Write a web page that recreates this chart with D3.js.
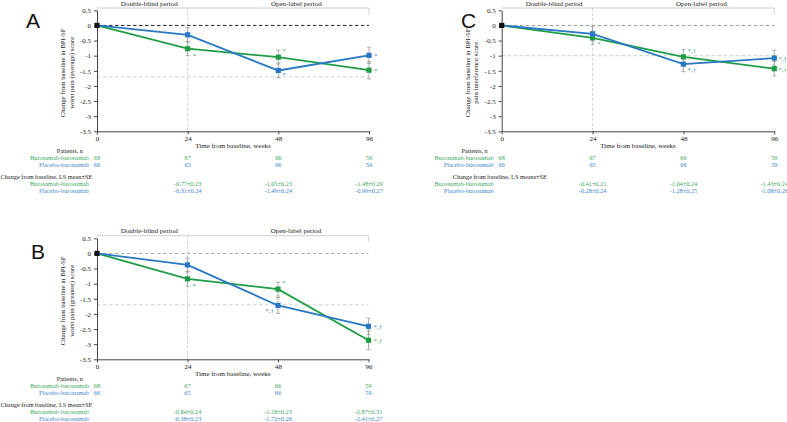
<!DOCTYPE html>
<html><head><meta charset="utf-8">
<script src="https://cdn.jsdelivr.net/npm/d3@7"></script>
<style>body{margin:0;background:#fff}svg{display:block}
svg text{font-family:"Liberation Serif","DejaVu Serif",serif}
svg text.sans{font-family:"Liberation Sans","DejaVu Sans",sans-serif}
</style>
</head><body>
<svg id="c" width="787" height="422"></svg>
<script>
// ---------- data ----------
const weeks = ["0", "24", "48", "96"];
const seriesNames = ["Burosumab-burosumab", "Placebo-burosumab"];
const yTicks = [0.5, 0, -0.5, -1, -1.5, -2, -2.5, -3, -3.5];

const aBuro = [0, -0.77, -1.05, -1.48];
const aBuroSE = [0, 0.23, 0.23, 0.29];
const aPlac = [0, -0.31, -1.49, -0.99];
const aPlacSE = [0, 0.24, 0.24, 0.27];
const aBuroN = [68, 67, 66, 59];
const aPlacN = [66, 65, 66, 59];
const aBuroNote = ["", "*", "*", "*"];
const aPlacNote = ["", "", "*", "*"];

const bBuro = [0, -0.84, -1.18, -2.87];
const bBuroSE = [0, 0.24, 0.23, 0.31];
const bPlac = [0, -0.38, -1.72, -2.41];
const bPlacSE = [0, 0.23, 0.26, 0.27];
const bBuroN = [68, 67, 66, 59];
const bPlacN = [66, 65, 66, 59];
const bBuroNote = ["", "*", "*", "*,†"];
const bPlacNote = ["", "", "*,†", "*,†"];

const cBuro = [0, -0.41, -1.04, -1.43];
const cBuroSE = [0, 0.21, 0.24, 0.24];
const cPlac = [0, -0.28, -1.28, -1.08];
const cPlacSE = [0, 0.24, 0.25, 0.26];
const cBuroN = [68, 67, 66, 59];
const cPlacN = [66, 65, 66, 59];
const cBuroNote = ["", "*", "*,†", "*,†"];
const cPlacNote = ["", "", "*,†", "*,†"];

// ---------- style ----------
const GREEN = "#1f9d45", BLUE = "#2878c6";
const GREEN_T = "#3aa95c", BLUE_T = "#3b86c9";

const svg = d3.select("#c");
svg.append("rect").attr("width", 787).attr("height", 422).attr("fill", "#fff");

function fmt(v, se) {
  return v.toFixed(2) + "\u00b1" + se.toFixed(2);
}

function panel(cfg) {
  const g = svg.append("g");
  const x = d3.scalePoint().domain(weeks).range([cfg.x0, cfg.x1]);
  const y = d3.scaleLinear().domain([-3.5, 0.5]).range([cfg.yb, cfg.yt]);

  // panel letter
  g.append("text").attr("class", "sans").attr("x", cfg.lx).attr("y", cfg.ly)
    .attr("font-size", 21).attr("fill", "#111").text(cfg.letter);

  // header
  g.append("line").attr("x1", x("0")).attr("x2", x("96")).attr("y1", cfg.yh).attr("y2", cfg.yh)
    .attr("stroke", "#cfcfcf").attr("stroke-width", 1);
  g.append("line").attr("x1", x("96")).attr("x2", x("96")).attr("y1", cfg.yh).attr("y2", cfg.yh + 6)
    .attr("stroke", "#cfcfcf").attr("stroke-width", 1);
  g.append("text").attr("x", (x("0") + x("24")) / 2 + 7).attr("y", cfg.yh - 2.5)
    .attr("text-anchor", "middle").attr("font-size", 7).attr("fill", "#222")
    .text("Double-blind period");
  g.append("text").attr("x", (x("24") + x("96")) / 2 + 18).attr("y", cfg.yh - 2.5)
    .attr("text-anchor", "middle").attr("font-size", 7).attr("fill", "#222")
    .text("Open-label period");

  // vertical divider at 24 weeks
  g.append("line").attr("x1", x("24")).attr("x2", x("24")).attr("y1", cfg.yh).attr("y2", cfg.yb)
    .attr("stroke", "#c8c8c8").attr("stroke-dasharray", "3,2").attr("stroke-width", 0.8);

  // reference lines
  g.append("line").attr("x1", x("0")).attr("x2", x("96")).attr("y1", y(0)).attr("y2", y(0))
    .attr("stroke", cfg.zeroColor).attr("stroke-dasharray", "3.5,2.5").attr("stroke-width", 1);
  g.append("line").attr("x1", x("0")).attr("x2", x("96")).attr("y1", y(cfg.thr)).attr("y2", y(cfg.thr))
    .attr("stroke", "#c8c8c8").attr("stroke-dasharray", "3.5,2.5").attr("stroke-width", 0.9);

  // axes
  const ya = g.append("g").attr("transform", `translate(${cfg.x0},0)`)
    .call(d3.axisLeft(y).tickValues(yTicks).tickSize(3).tickSizeOuter(0).tickFormat(d => String(d)));
  const xa = g.append("g").attr("transform", `translate(0,${cfg.yb})`)
    .call(d3.axisBottom(x).tickSize(3).tickSizeOuter(0).tickPadding(2));
  [ya, xa].forEach(a => {
    a.attr("font-family", null);
    a.selectAll("path,line").attr("stroke", "#444");
    a.selectAll("text").attr("font-size", 7).attr("fill", "#222");
  });

  // y label
  const yl = g.append("text").attr("transform", `translate(${cfg.x0 - 28},${(cfg.yt + cfg.yb) / 2 + 2}) rotate(-90)`)
    .attr("text-anchor", "middle").attr("font-size", 6.8).attr("fill", "#222");
  yl.append("tspan").attr("x", 0).attr("dy", -4).text("Change from baseline in BPI-SF");
  yl.append("tspan").attr("x", 0).attr("dy", 8.5).text(cfg.ylabel);

  // series
  const series = [
    {v: cfg.buro, se: cfg.buroSE, c: GREEN, tc: GREEN_T, note: cfg.buroNote, off: cfg.buroOff},
    {v: cfg.plac, se: cfg.placSE, c: BLUE, tc: BLUE_T, note: cfg.placNote, off: cfg.placOff}
  ];
  // error bars
  series.forEach(s => {
    weeks.forEach((w, i) => {
      if (!s.se[i]) return;
      const xx = x(w), y1 = y(s.v[i] + s.se[i]), y2 = y(s.v[i] - s.se[i]);
      g.append("line").attr("x1", xx).attr("x2", xx).attr("y1", y1).attr("y2", y2)
        .attr("stroke", "#9a9a9a").attr("stroke-width", 0.8);
      [y1, y2].forEach(yy => g.append("line").attr("x1", xx - 2).attr("x2", xx + 2)
        .attr("y1", yy).attr("y2", yy).attr("stroke", "#9a9a9a").attr("stroke-width", 0.8));
    });
  });
  const line = d3.line().x((d, i) => x(weeks[i])).y(d => y(d));
  series.forEach(s => {
    g.append("path").datum(s.v).attr("d", line).attr("fill", "none")
      .attr("stroke", s.c).attr("stroke-width", 1.8);
  });
  series.forEach(s => {
    s.v.forEach((v, i) => {
      if (i === 0) return;
      g.append("rect").attr("x", x(weeks[i]) - 2.6).attr("y", y(v) - 2.6)
        .attr("width", 5.2).attr("height", 5.2).attr("fill", s.c);
      if (s.note[i]) {
        g.append("text").attr("x", x(weeks[i]) + s.off[i][0]).attr("y", y(v) + s.off[i][1])
          .attr("font-size", 7).attr("fill", s.tc)
          .attr("text-anchor", s.off[i][0] < 0 ? "end" : "start").text(s.note[i]);
      }
    });
  });
  g.append("rect").attr("x", x("0") - 2.6).attr("y", y(0) - 2.6)
    .attr("width", 5.2).attr("height", 5.2).attr("fill", "#111");

  // x title
  const b = cfg.yb;
  g.append("text").attr("x", (cfg.x0 + cfg.x1) / 2).attr("y", b + 16.5)
    .attr("text-anchor", "middle").attr("font-size", 7).attr("fill", "#222")
    .text("Time from baseline, weeks");

  // table
  const FS = 6.3;
  const T = (tx, ty, txt, col, anchor) => g.append("text").attr("x", tx).attr("y", ty)
    .attr("text-anchor", anchor).attr("font-size", FS).attr("fill", col).text(txt);
  T(cfg.x0 - 14, b + 21.8, "Patients, n", "#222", "end");
  T(cfg.x0 - 8, b + 28.6, seriesNames[0], GREEN_T, "end");
  T(cfg.x0 - 8, b + 35.4, seriesNames[1], BLUE_T, "end");
  weeks.forEach((w, i) => {
    T(x(w), b + 28.6, cfg.buroN[i], GREEN_T, "middle");
    T(x(w), b + 35.4, cfg.placN[i], BLUE_T, "middle");
  });
  T(cfg.x0 + cfg.chgOff, b + 47.8, cfg.chgTitle, "#222", "start");
  T(cfg.x0 - 8, b + 54.6, seriesNames[0], GREEN_T, "end");
  T(cfg.x0 - 8, b + 61.4, seriesNames[1], BLUE_T, "end");
  weeks.forEach((w, i) => {
    if (i === 0) return;
    T(x(w), b + 54.6, fmt(cfg.buro[i], cfg.buroSE[i]), GREEN_T, "middle");
    T(x(w), b + 61.4, fmt(cfg.plac[i], cfg.placSE[i]), BLUE_T, "middle");
  });
}

panel({
  letter: "A", lx: 26, ly: 28,
  x0: 97, x1: 369, yt: 10.3, yb: 131.3, yh: 8,
  zeroColor: "#222", thr: -1.7,
  ylabel: "worst pain (average) score",
  buro: aBuro, buroSE: aBuroSE, plac: aPlac, placSE: aPlacSE,
  buroN: aBuroN, placN: aPlacN, buroNote: aBuroNote, placNote: aPlacNote,
  buroOff: [[0,0],[5,9],[4,-4],[5,3]], placOff: [[0,0],[0,0],[4,7],[5,3]],
  chgTitle: "Change from baseline, LS mean\u00b1SE", chgOff: -96.5
});
panel({
  letter: "B", lx: 31, ly: 259,
  x0: 97, x1: 368.5, yt: 238.3, yb: 359.3, yh: 235.7,
  zeroColor: "#aaa", thr: -1.7,
  ylabel: "worst pain (greatest) score",
  buro: bBuro, buroSE: bBuroSE, plac: bPlac, placSE: bPlacSE,
  buroN: bBuroN, placN: bPlacN, buroNote: bBuroNote, placNote: bPlacNote,
  buroOff: [[0,0],[5,9],[4,-4],[5,3]], placOff: [[0,0],[0,0],[-4,8],[5,3]],
  chgTitle: "Change from baseline, LS mean\u00b1SE", chgOff: -96.5
});
panel({
  letter: "C", lx: 461, ly: 28,
  x0: 501.7, x1: 774.3, yt: 10.3, yb: 131.3, yh: 8,
  zeroColor: "#999", thr: -1,
  ylabel: "pain interference score",
  buro: cBuro, buroSE: cBuroSE, plac: cPlac, placSE: cPlacSE,
  buroN: cBuroN, placN: cPlacN, buroNote: cBuroNote, placNote: cPlacNote,
  buroOff: [[0,0],[5,8],[4,-4],[4,3]], placOff: [[0,0],[0,0],[4,8],[4,3]],
  chgTitle: "Change from baseline, LS means\u00b1SE", chgOff: -49
});
</script>
</body></html>
